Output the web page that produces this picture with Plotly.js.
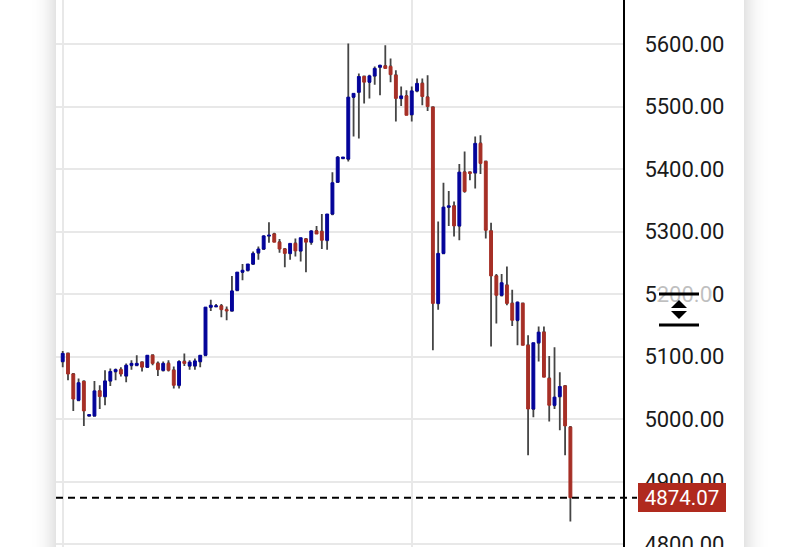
<!DOCTYPE html>
<html>
<head>
<meta charset="utf-8">
<script src="https://cdn.plot.ly/plotly-3.0.1.min.js"></script>
<style>
html,body{margin:0;padding:0;width:800px;height:547px;overflow:hidden;background:#fff}
#card{position:absolute;left:56px;top:-60px;width:688px;height:680px;background:#fff;box-shadow:0 0 22px rgba(0,0,0,.22)}
#chart{position:absolute;left:0;top:0;width:800px;height:547px}
</style>
</head>
<body>
<div id="card"></div>
<div id="chart"></div>
<script>
const opens = [5092,5105,5072,5030,5060,5005,5005,5045,5036,5061,5076,5079,5069,5086,5086,5091,5083,5102,5089,5078,5089,5078,5054,5092,5085,5085,5092,5102,5179,5180,5181,5175,5173,5206,5235,5238,5248,5266,5272,5293,5296,5283,5272,5265,5281,5269,5288,5283,5301,5300,5286,5328,5379,5417,5416,5515,5523,5548,5539,5549,5563,5565,5564,5550,5513,5517,5487,5525,5537,5515,5499,5185,5265,5339,5341,5309,5395,5395,5394,5441,5412,5301,5229,5198,5214,5185,5158,5185,5118,5016,5122,5139,5065,5022,5036,5053,4987];
const highs = [5109,5105,5072,5065,5062,5007,5061,5054,5078,5081,5081,5083,5089,5094,5102,5091,5102,5102,5092,5092,5094,5084,5094,5105,5094,5097,5102,5179,5191,5184,5184,5180,5229,5235,5248,5248,5268,5276,5294,5315,5298,5288,5272,5281,5289,5290,5288,5302,5309,5328,5328,5395,5421,5419,5601,5521,5553,5548,5551,5564,5567,5598,5577,5558,5532,5526,5532,5545,5545,5550,5499,5316,5378,5365,5348,5408,5428,5395,5452,5454,5412,5314,5232,5232,5244,5207,5188,5185,5134,5122,5148,5148,5101,5115,5075,5054,4989];
const lows = [5083,5062,5013,5030,4989,5005,5005,5016,5022,5053,5062,5068,5059,5079,5086,5076,5083,5086,5069,5076,5076,5049,5049,5085,5079,5079,5083,5102,5173,5179,5163,5158,5173,5206,5222,5236,5248,5255,5272,5282,5283,5266,5243,5255,5260,5252,5235,5279,5296,5272,5271,5326,5379,5417,5412,5452,5449,5505,5513,5535,5518,5561,5539,5476,5501,5486,5476,5523,5502,5493,5110,5175,5265,5309,5292,5286,5362,5382,5369,5392,5289,5116,5153,5196,5182,5149,5118,5118,4942,5003,5092,5067,4996,5016,4982,4942,4836];
const closes = [5105,5072,5032,5058,5013,5007,5045,5036,5061,5076,5079,5072,5086,5089,5089,5083,5102,5089,5079,5089,5078,5054,5092,5089,5091,5093,5102,5179,5182,5181,5175,5173,5205,5235,5238,5248,5265,5272,5293,5294,5283,5272,5265,5281,5269,5290,5283,5301,5296,5286,5328,5378,5419,5419,5515,5521,5548,5539,5549,5561,5566,5561,5551,5513,5517,5486,5525,5537,5516,5500,5185,5265,5339,5341,5309,5395,5364,5393,5441,5409,5302,5229,5198,5218,5185,5158,5187,5118,5016,5122,5139,5067,5022,5035,5052,4989,4874.07];
const yTicks = [4800,4900,5000,5100,5200,5300,5400,5500,5600];

const index = closes.map((_, i) => i);
const bodyTop = opens.map((o, i) => Math.max(o, closes[i]));
const bodyBottom = opens.map((o, i) => Math.min(o, closes[i]));
const last = closes[closes.length - 1];
const RED = '#a62f26', BLUE = '#04049a';
const px = x => (x - 56) / 567;
const py = y => 1 - y / 547;

const wicks = {
  type: 'candlestick', x: index, open: opens, close: opens, high: highs, low: lows,
  increasing: {line: {color: '#454545', width: 1.8}, fillcolor: '#454545'},
  decreasing: {line: {color: '#454545', width: 1.8}, fillcolor: '#454545'},
  whiskerwidth: 0, hoverinfo: 'skip', showlegend: false
};
const bodies = {
  type: 'candlestick', x: index, open: opens, close: closes, high: bodyTop, low: bodyBottom,
  increasing: {line: {color: BLUE, width: 1}, fillcolor: BLUE},
  decreasing: {line: {color: RED, width: 1}, fillcolor: RED},
  whiskerwidth: 0, hoverinfo: 'skip', showlegend: false
};
const handleLine = y => ({type: 'line', xref: 'paper', yref: 'paper', x0: px(659), x1: px(699), y0: py(y), y1: py(y), line: {color: '#000', width: 3}});
const tri = (a, b) => ({type: 'path', xref: 'paper', yref: 'paper',
  path: `M ${px(671)} ${py(a)} L ${px(687)} ${py(a)} L ${px(679)} ${py(b)} Z`, fillcolor: '#000', line: {width: 0}});

const layout = {
  width: 800, height: 547,
  margin: {l: 56, r: 177, t: 0, b: 0, pad: 0},
  paper_bgcolor: 'rgba(0,0,0,0)', plot_bgcolor: 'rgba(0,0,0,0)',
  showlegend: false, boxgap: 0.22,
  xaxis: {range: [-1.27, 105.95], tickvals: [0, 66], showticklabels: false, ticks: '', showgrid: true,
          gridcolor: '#e8e8e8', gridwidth: 2, zeroline: false, showline: false, rangeslider: {visible: false}},
  yaxis: {side: 'right', range: [4795.2, 5670.4], tickvals: yTicks, tickformat: '.2f', ticks: '', ticklabelstandoff: 15,
          ticklabeloverflow: 'allow', showgrid: true, gridcolor: '#e8e8e8', gridwidth: 2, zeroline: false, showline: true,
          linecolor: '#000', linewidth: 2,
          tickfont: {family: 'Roboto, sans-serif', size: 22, color: '#1a1a1a'}},
  shapes: [
    {type: 'line', xref: 'paper', yref: 'y', x0: 0, x1: px(637), y0: last, y1: last, line: {color: '#000', width: 2, dash: '7px,5px'}},
    {type: 'rect', xref: 'paper', yref: 'paper', x0: px(658), x1: px(711), y0: py(302), y1: py(283), fillcolor: 'rgba(255,255,255,0.72)', line: {width: 0}},
    handleLine(294), handleLine(325),
    tri(308, 300), tri(311, 319)
  ],
  annotations: [{
    xref: 'paper', yref: 'y', x: px(681.5), y: last, xanchor: 'center', yanchor: 'middle', text: last.toFixed(2), showarrow: false,
    font: {family: 'Roboto, sans-serif', size: 20.5, color: '#fff'}, bgcolor: '#b02a1e',
    width: 88, height: 29, align: 'center', valign: 'middle', borderpad: 0, borderwidth: 0
  }]
};
Plotly.newPlot('chart', [wicks, bodies], layout, {displayModeBar: false, staticPlot: true});
</script>
</body>
</html>
